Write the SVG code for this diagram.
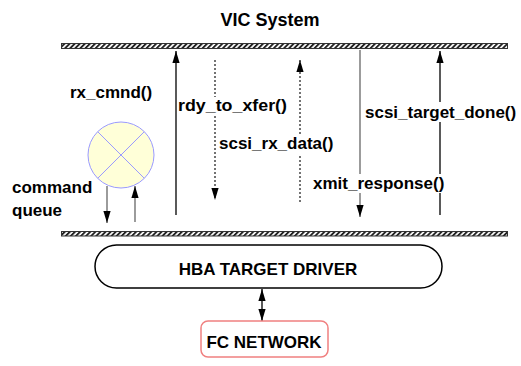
<svg xmlns="http://www.w3.org/2000/svg" width="521" height="366" viewBox="0 0 521 366">
  <style>
    text { font-family: "Liberation Sans", Arial, sans-serif; font-weight: bold; font-size: 17px; fill: #000; }
    .mid { text-anchor: middle; }
    .bar { fill: url(#hatch); stroke: #333; stroke-width: 1; }
    .solid { stroke: #000; stroke-width: 1.3; fill: none; }
    .dash { stroke: #000; stroke-width: 1.1; stroke-dasharray: 2 2; fill: none; }
    .grey { stroke: #666; stroke-width: 1.3; fill: none; }
    .bg { fill: #fff; }
  </style>
  <defs>
    <pattern id="hatch" patternUnits="userSpaceOnUse" width="3.6" height="3.6" patternTransform="rotate(45)">
      <rect width="3.6" height="3.6" fill="#fff"/>
      <rect width="1.9" height="3.6" fill="#222"/>
    </pattern>
    <marker id="ah" viewBox="0 0 12 8" refX="12" refY="4" markerWidth="12" markerHeight="8" markerUnits="userSpaceOnUse" orient="auto">
      <path d="M0,0.4 L12,4 L0,7.6 Z" fill="#000"/>
    </marker>
    <marker id="ahs" viewBox="0 0 12 8" refX="12" refY="4" markerWidth="12" markerHeight="8" markerUnits="userSpaceOnUse" orient="auto-start-reverse">
      <path d="M0,0.4 L12,4 L0,7.6 Z" fill="#000"/>
    </marker>
  </defs>

  <rect width="521" height="366" fill="#fff"/>

  <!-- title -->
  <text class="mid" x="270" y="26" style="font-size:18px">VIC System</text>

  <!-- hatched layer boundaries -->
  <rect class="bar" x="61.5" y="43.5" width="446" height="5"/>
  <rect class="bar" x="61.5" y="231.5" width="446" height="4.5"/>

  <!-- connectors -->
  <g id="connectors">
    <line class="grey" x1="107" y1="186" x2="107" y2="223" marker-end="url(#ah)"/>
    <line class="grey" x1="135" y1="222" x2="135" y2="186" marker-end="url(#ah)"/>
    <line class="solid" x1="176" y1="215" x2="176" y2="51" marker-end="url(#ah)"/>
    <line class="dash" x1="215" y1="60" x2="215" y2="200" marker-end="url(#ah)"/>
    <line class="dash" x1="300" y1="202" x2="300" y2="60" marker-end="url(#ah)"/>
    <line class="grey" x1="360" y1="50" x2="360" y2="217" marker-end="url(#ah)"/>
    <line class="solid" x1="440" y1="215" x2="440" y2="51" marker-end="url(#ah)"/>
    <line class="solid" x1="262" y1="289" x2="262" y2="321" marker-start="url(#ahs)" marker-end="url(#ah)"/>
  </g>

  <!-- call labels, on white so the lines break behind them -->
  <g id="labels">
    <rect class="bg" x="177" y="97" width="112" height="19"/>
    <text x="178" y="111" textLength="109" lengthAdjust="spacingAndGlyphs">rdy_to_xfer()</text>
    <rect class="bg" x="218" y="136" width="114" height="18"/>
    <text x="219" y="149">scsi_rx_data()</text>
    <rect class="bg" x="312" y="174" width="140" height="19"/>
    <text x="313" y="189">xmit_response()</text>
    <rect class="bg" x="364" y="102" width="157" height="20"/>
    <text x="365" y="118">scsi_target_done()</text>
  </g>

  <!-- command queue -->
  <g id="queue">
    <text x="70" y="98">rx_cmnd()</text>
    <ellipse cx="121" cy="155" rx="33" ry="33" fill="#ffffd8" stroke="#9a9aff" stroke-width="1"/>
    <line x1="97.7" y1="131.7" x2="144.3" y2="178.3" stroke="#9a9aff" stroke-width="1"/>
    <line x1="144.3" y1="131.7" x2="97.7" y2="178.3" stroke="#9a9aff" stroke-width="1"/>
    <text x="12" y="193">command</text>
    <text x="12" y="216">queue</text>
  </g>

  <!-- driver -->
  <g id="hba">
    <rect x="95" y="245" width="347" height="43" rx="21.5" ry="21.5" fill="#fff" stroke="#000" stroke-width="1.5"/>
    <text class="mid" x="268" y="275">HBA TARGET DRIVER</text>
  </g>

  <!-- network -->
  <g id="fc">
    <rect x="201" y="321" width="127" height="36" rx="7" ry="7" fill="#fff" stroke="#f08080" stroke-width="1.5"/>
    <text class="mid" x="264" y="348">FC NETWORK</text>
  </g>
</svg>
